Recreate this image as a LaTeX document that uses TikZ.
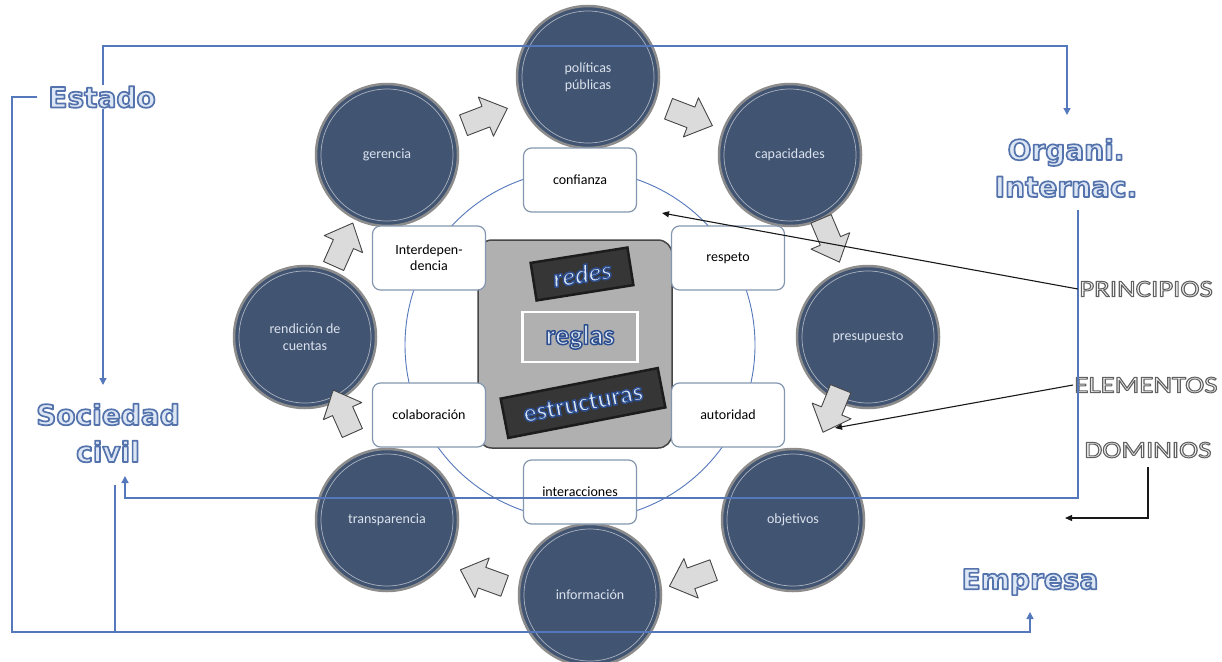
\documentclass[tikz,border=0pt]{standalone}
\usepackage{fontspec}
\setmainfont{Carlito}
\newfontfamily\roundedfont{DejaVu Sans}
\usetikzlibrary{arrows.meta}
\definecolor{circfill}{HTML}{415472}
\definecolor{ringc}{HTML}{8C8C8C}
\definecolor{boxedge}{HTML}{8497B0}
\definecolor{linkblue}{HTML}{5577BB}
\definecolor{textlight}{HTML}{DCE6F4}
\definecolor{circtext}{HTML}{DCE3EE}
\definecolor{capfill}{HTML}{F4F4F4}
% outlined text: fill colour from \textcolor, stroke set by a literal
\newcommand\blueoutl[1]{\textcolor{textlight}{\special{pdf:literal direct 0.33 0.45 0.68 RG 1.7 w 1 j 2 Tr}#1\special{pdf:literal direct 0 Tr}}}
\newcommand\grayoutl[1]{\textcolor{capfill}{\special{pdf:literal direct 0.38 0.38 0.38 RG 1.0 w 1 j 2 Tr}#1\special{pdf:literal direct 0 Tr}}}
\newcommand\plaqueoutl[1]{\textcolor{textlight}{\special{pdf:literal direct 0.18 0.31 0.56 RG 1.5 w 1 j 2 Tr}#1\special{pdf:literal direct 0 Tr}}}
\newcommand\blockarr[3]{%
  \draw[blockarrow, shift={(#1,#2)}, rotate=#3]
    (-23,-11) -- (1,-11) -- (1,-21) -- (24,0) -- (1,21) -- (1,11) -- (-23,11) -- cycle;}
\tikzset{
  circ/.style={circle, minimum size=142pt, fill=circfill, draw=ringc, line width=2.5pt,
    text=circtext, font=\fontsize{14}{17}\selectfont, align=center, inner sep=0pt},
  boxn/.style={rectangle, rounded corners=8pt, draw=boxedge, line width=1.2pt, fill=white,
    minimum width=113pt, minimum height=64pt, font=\fontsize{14}{16}\selectfont, align=center,
    inner sep=2pt},
  blockarrow/.style={draw=gray!55!black, fill=gray!28, line width=0.9pt, line join=round},
  bigtxt/.style={font=\roundedfont\bfseries\fontsize{28}{37}\selectfont, inner sep=1pt, align=center},
  captxt/.style={font=\fontsize{24}{26}\selectfont, inner sep=1pt, xscale=1.2},
  plaque/.style={fill=gray!42!black, draw=gray!22!black, line width=2.5pt,
    font=\bfseries\fontsize{26}{28}\selectfont, inner sep=0pt},
  link/.style={draw=linkblue, line width=1.3pt},
  tiplink/.style={link, -{Triangle[width=7pt,length=7pt]}},
  blackline/.style={draw=gray!20!black, line width=1.1pt},
  tipblack/.style={blackline, -{Triangle[width=6pt,length=7pt]}}
}
\begin{document}
\begin{tikzpicture}[x=1pt,y=-1pt]
\path[use as bounding box, fill=white] (0,0) rectangle (1222,661);

% central ring
\coordinate (ctr) at (580,345);
\draw[linkblue, line width=0.9pt] (ctr) circle (175);

% circles
\node[circ] (pol) at (588,77) {políticas\\públicas};
\node[circ] (cap) at (790,155) {capacidades};
\node[circ] (pre) at (868,337) {presupuesto};
\node[circ] (obj) at (793,520) {objetivos};
\node[circ] (inf) at (590,595) {información};
\node[circ] (tra) at (387,520) {transparencia};
\node[circ] (ren) at (305,337) {rendición de\\cuentas};
\node[circ] (ger) at (387,155) {gerencia};
\foreach \c in {pol,cap,pre,obj,inf,tra,ren,ger}
  \draw[white!55!circfill, line width=0.7pt] (\c.center) circle (66);

% block arrows
\blockarr{485}{117}{21}
\blockarr{690}{117}{-21}
\blockarr{830}{240}{-67}
\blockarr{832}{410}{-112}
\blockarr{692}{578}{-160}
\blockarr{483}{578}{160}
\blockarr{343}{412}{114}
\blockarr{343}{245}{66}

% core square
\node[draw=gray!55!black, fill=gray!62, rounded corners=14pt, minimum width=194pt,
  minimum height=208pt, line width=1.5pt] (core) at (575,344) {};
\node[plaque, rotate=9, minimum width=98pt, minimum height=38pt] (redes) at (582,274)
  {\plaqueoutl{\itshape redes}};
\node[draw=white, line width=2.5pt, minimum width=115pt, minimum height=50pt,
  font=\bfseries\fontsize{28}{30}\selectfont] (reglas) at (580,337) {\plaqueoutl{reglas}};
\node[plaque, rotate=11, minimum width=160pt, minimum height=40pt] (estr) at (583,403)
  {\plaqueoutl{estructuras}};

% small boxes
\node[boxn] (conf) at (580,180) {confianza};
\node[boxn] (resp) at (728,258) {respeto};
\node[boxn] (auto) at (728,415) {autoridad};
\node[boxn] (inter) at (580,492) {interacciones};
\node[boxn] (colab) at (429,415) {colaboración};
\node[boxn] (interd) at (429,258) {Interdepen-\\dencia};

% actors
\node[bigtxt] (est) at (102,97) {\blueoutl{Estado}};
\node[bigtxt] (org) at (1066,168) {\blueoutl{Organi.}\\\blueoutl{Internac.}};
\node[bigtxt] (soc) at (108,433) {\blueoutl{Sociedad}\\\blueoutl{civil}};
\node[bigtxt] (emp) at (1030,582) {\blueoutl{Empresa}};

% categories
\node[captxt] (prin) at (1146,289) {\grayoutl{PRINCIPIOS}};
\node[captxt] (elem) at (1146,385) {\grayoutl{ELEMENTOS}};
\node[captxt] (dom) at (1148,450) {\grayoutl{DOMINIOS}};

% blue connectors
\coordinate (a1) at (103,46);
\coordinate (a2) at (1067,46);
\coordinate (a3) at (1067,115);
\draw[tiplink] (est.north -| a1) -- (a1) -- (a2) -- (a3);

\coordinate (b0) at (37,97);
\coordinate (b1) at (12,97);
\coordinate (b2) at (12,632);
\coordinate (b3) at (1030,632);
\coordinate (b4) at (1030,612);
\draw[tiplink] (b0) -- (b1) -- (b2) -- (b3) -- (b4);

\coordinate (c1) at (103,385);
\draw[tiplink] (est.south -| c1) -- (c1);

\coordinate (d0) at (115,485);
\coordinate (d1) at (115,632);
\draw[link] (d0) -- (d1);

\coordinate (e0) at (1078,210);
\coordinate (e1) at (1078,498);
\coordinate (e2) at (125,498);
\coordinate (e3) at (125,476);
\draw[tiplink] (e0) -- (e1) -- (e2) -- (e3);

% black pointers
\coordinate (p1) at (662,213);
\draw[tipblack] (prin.west) -- (p1);
\coordinate (q1) at (835,428);
\draw[tipblack] (elem.west) -- (q1);
\coordinate (r0) at (1148,467);
\coordinate (r1) at (1148,518);
\coordinate (r2) at (1065,518);
\draw[tipblack] (r0) -- (r1) -- (r2);
\end{tikzpicture}
\end{document}
